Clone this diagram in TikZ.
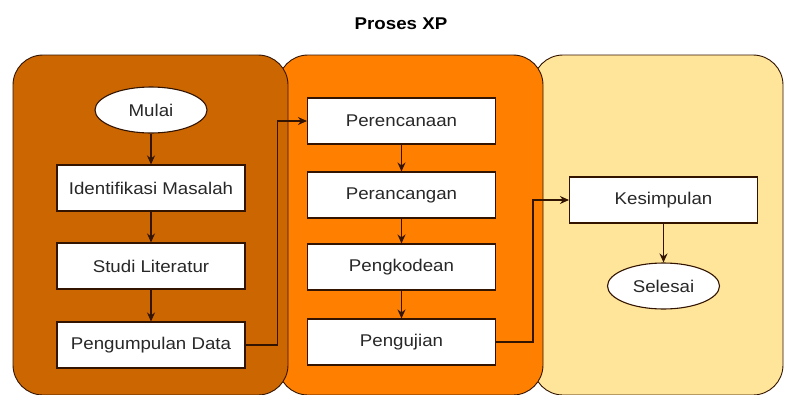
\documentclass[tikz,border=0pt]{standalone}
\usepackage{fontspec}
\setmainfont{Liberation Sans}[FakeStretch=1.1]
\usepackage{tikz}
\usetikzlibrary{shapes.geometric,arrows.meta}
\definecolor{xpdark}{RGB}{204, 102, 0}
\definecolor{xporange}{RGB}{255, 128, 0}
\definecolor{xpyellow}{RGB}{255, 229, 153}
\definecolor{xpline}{RGB}{51, 20, 0}
\definecolor{xptext}{RGB}{40, 40, 40}

\begin{document}
\begin{tikzpicture}[x=1pt, y=-1pt,
  panel/.style={draw=xpline, line width=0.9pt, rounded corners=30pt},
  stepbox/.style={draw=xpline, fill=white, line width=1.1pt, minimum width=188pt, minimum height=46pt, inner sep=0pt, text=xptext, font=\fontsize{17}{20}\selectfont},
  endpoint/.style={stepbox, ellipse, minimum width=112pt},
  flow/.style={draw=xpline, line width=1.2pt, -{Stealth[length=9pt, width=8pt]}}]
\useasboundingbox (0,0) rectangle (785,394);
\draw[panel, fill=xpyellow] (533,55) rectangle (783,395);
\draw[panel, fill=xporange] (278,55) rectangle (543,395);
\draw[panel, fill=xpdark] (13,55) rectangle (288,395);
\node[font=\fontsize{17}{20}\selectfont\bfseries, text=black] (title) at (401,24) {Proses XP};

\node[endpoint] (mulai) at (151,110) {Mulai};
\node[stepbox] (identifikasi) at (151,188) {Identifikasi Masalah};
\node[stepbox] (studi) at (151,266) {Studi Literatur};
\node[stepbox] (pengumpulan) at (151,345) {Pengumpulan Data};

\node[stepbox] (perencanaan) at (401.5,121) {Perencanaan};
\node[stepbox] (perancangan) at (401.5,195) {Perancangan};
\node[stepbox] (pengkodean) at (401.5,267) {Pengkodean};
\node[stepbox] (pengujian) at (401.5,342) {Pengujian};

\node[stepbox] (kesimpulan) at (663.5,200) {Kesimpulan};
\node[endpoint] (selesai) at (663.5,286) {Selesai};

\draw[flow] (mulai) -- (identifikasi);
\draw[flow] (identifikasi) -- (studi);
\draw[flow] (studi) -- (pengumpulan);
\draw[flow] (pengumpulan.east) -- ++(32,0) |- (perencanaan.west);
\draw[flow] (perencanaan) -- (perancangan);
\draw[flow] (perancangan) -- (pengkodean);
\draw[flow] (pengkodean) -- (pengujian);
\draw[flow] (pengujian.east) -- ++(37,0) |- (kesimpulan.west);
\draw[flow] (kesimpulan) -- (selesai);
\end{tikzpicture}
\end{document}
